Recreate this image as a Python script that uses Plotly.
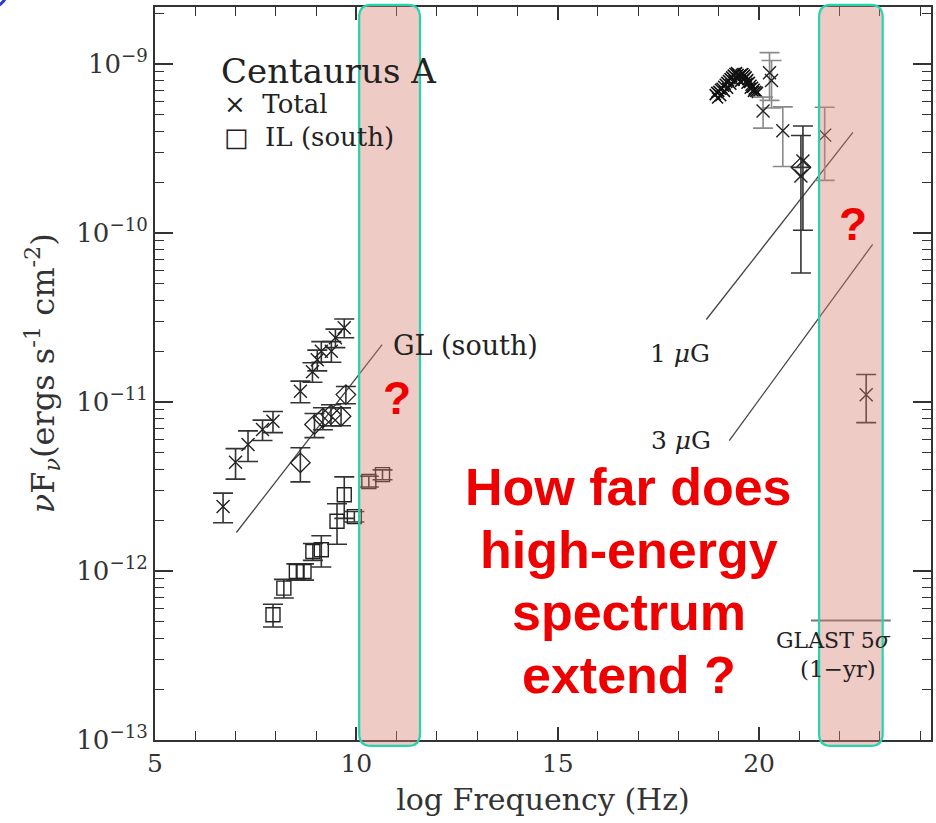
import numpy as np
import plotly.graph_objects as go

# ---- Centaurus A broadband SED data (log nu [Hz], nu F_nu [erg s^-1 cm^-2]) ----
# Total flux, radio points
total_lo_x = [6.69, 7.00, 7.31, 7.67, 7.93, 8.61, 8.91, 9.03, 9.13, 9.38, 9.48, 9.70]
total_lo_y = [2.41e-12, 4.40e-12, 5.60e-12, 6.87e-12, 7.69e-12, 1.16e-11,
              1.51e-11, 1.78e-11, 2.00e-11, 2.00e-11, 2.40e-11, 2.75e-11]
total_lo_err = [0.48e-12, 0.90e-12, 1.15e-12, 0.95e-12, 1.10e-12, 1.70e-12,
                2.0e-12, 2.5e-12, 2.8e-12, 2.8e-12, 3.0e-12, 3.5e-12]

# Total flux, dense X-ray / soft gamma-ray spectrum
blob_x = [18.91, 18.95, 19.00, 19.04, 19.08, 19.12, 19.16, 19.20, 19.24, 19.28,
          19.32, 19.36, 19.40, 19.44, 19.48, 19.52, 19.56, 19.60, 19.64, 19.68,
          19.72, 19.76, 19.80, 19.84, 19.88, 19.92, 19.96,
          18.97, 19.05, 19.14, 19.22, 19.30, 19.38, 19.46, 19.54, 19.62, 19.70, 19.78, 19.86]
blob_y = [6.6e-10, 6.8e-10, 6.9e-10, 7.1e-10, 7.2e-10, 7.4e-10, 7.6e-10, 7.8e-10, 8.0e-10, 8.2e-10,
          8.4e-10, 8.6e-10, 8.8e-10, 8.9e-10, 8.7e-10, 8.5e-10, 8.7e-10, 8.8e-10, 8.6e-10, 8.4e-10,
          8.1e-10, 7.8e-10, 7.5e-10, 7.3e-10, 7.1e-10, 6.9e-10, 6.8e-10,
          6.3e-10, 6.5e-10, 6.9e-10, 7.2e-10, 7.6e-10, 8.0e-10, 8.2e-10, 7.9e-10, 8.1e-10, 7.7e-10, 7.2e-10, 6.9e-10]

# Total flux, gamma-ray points with grey error bars
total_g_x = [20.10, 20.26, 20.31, 20.59, 21.63]
total_g_y = [5.28e-10, 8.9e-10, 8.0e-10, 4.03e-10, 3.8e-10]
total_g_err = [1.1e-10, 2.8e-10, 2.5e-10, 1.55e-10, 1.75e-10]

# Total flux, gamma-ray points with dark error bars
total_d_x = [21.09, 21.04, 22.66]
total_d_y = [2.67e-10, 2.18e-10, 1.106e-11]
total_d_err = [1.63e-10, 1.6e-10, 3.5e-12]

# Giant lobe (south) points
gl_x = [8.61, 8.96, 9.17, 9.37, 9.62, 9.74, 21.04]
gl_y = [4.37e-12, 7.36e-12, 8.05e-12, 8.43e-12, 8.24e-12, 1.107e-11, 2.45e-10]
gl_err = [1.0e-12, 1.2e-12, 1.2e-12, 1.2e-12, 1.0e-12, 1.3e-12, 0.0]

# Inner lobe (south) points
il_x = [7.93, 8.20, 8.51, 8.70, 8.92, 9.13, 9.52, 9.70, 9.95, 10.31, 10.65]
il_y = [5.51e-13, 7.92e-13, 9.93e-13, 9.93e-13, 1.306e-12, 1.337e-12,
        1.97e-12, 2.83e-12, 2.10e-12, 3.39e-12, 3.72e-12]
il_err = [0.85e-13, 1.0e-13, 1.1e-13, 1.1e-13, 1.5e-13, 2.8e-13,
          5.3e-13, 7.8e-13, 1.5e-13, 2.5e-13, 2.5e-13]

# Model spectra (power-law segments)
gl_model_x = [7.02, 10.64]
gl_model_y = [1.69e-12, 2.19e-11]
ic1_x = [18.69, 22.33]
ic1_y = [3.08e-11, 3.94e-10]
ic3_x = [19.26, 22.82]
ic3_y = [5.92e-12, 8.57e-11]

# GLAST 5-sigma one-year sensitivity
glast_x = [21.29, 23.27]
glast_y = [5.1e-13, 5.1e-13]

# Highlighted frequency windows
bands = [(10.07, 11.58), (21.49, 23.07)]

x_ticks = [5, 10, 15, 20]
y_ticks = [1e-13, 1e-12, 1e-11, 1e-10, 1e-9]
y_ticktext = ["10<sup>−13</sup>", "10<sup>−12</sup>", "10<sup>−11</sup>",
              "10<sup>−10</sup>", "10<sup>−9</sup>"]

INK = "#222222"
GREY = "#8a8a8a"
SERIF = "DejaVu Serif"

fig = go.Figure()

# model lines
for mx, my in [(gl_model_x, gl_model_y), (ic1_x, ic1_y), (ic3_x, ic3_y)]:
    fig.add_trace(go.Scatter(x=mx, y=my, mode="lines",
                             line=dict(color="#444444", width=1.3)))
fig.add_trace(go.Scatter(x=glast_x, y=glast_y, mode="lines",
                         line=dict(color="#777777", width=2)))


def xmark(x, y, err, ecolor, size=13):
    return go.Scatter(
        x=x, y=y, mode="markers",
        marker=dict(symbol="x-thin", size=size, color=INK,
                    line=dict(color=INK, width=1.4)),
        error_y=dict(type="data", array=err, visible=True,
                     color=ecolor, thickness=1.6, width=10))


fig.add_trace(xmark(total_lo_x, total_lo_y, total_lo_err, "#333333"))
fig.add_trace(go.Scatter(
    x=blob_x, y=blob_y, mode="markers",
    marker=dict(symbol="x-thin", size=11, color="#111111",
                line=dict(color="#111111", width=1.6))))
fig.add_trace(xmark(total_g_x, total_g_y, total_g_err, GREY))
fig.add_trace(xmark(total_d_x, total_d_y, total_d_err, "#333333"))

fig.add_trace(go.Scatter(
    x=gl_x, y=gl_y, mode="markers",
    marker=dict(symbol="diamond-open", size=15, color=INK,
                line=dict(color=INK, width=1.3)),
    error_y=dict(type="data", array=gl_err, visible=True,
                 color="#333333", thickness=1.6, width=10)))

fig.add_trace(go.Scatter(
    x=il_x, y=il_y, mode="markers",
    marker=dict(symbol="square-open", size=14, color=INK,
                line=dict(color=INK, width=1.4)),
    error_y=dict(type="data", array=il_err, visible=True,
                 color="#333333", thickness=1.6, width=10)))

# highlighted windows drawn as rounded boxes over the data
shapes = []
ry = 0.017
for (b0, b1) in bands:
    rx = 0.3
    y0, y1 = -0.008, 1.003
    path = (f"M {b0+rx},{y0} L {b1-rx},{y0} Q {b1},{y0} {b1},{y0+ry} "
            f"L {b1},{y1-ry} Q {b1},{y1} {b1-rx},{y1} "
            f"L {b0+rx},{y1} Q {b0},{y1} {b0},{y1-ry} "
            f"L {b0},{y0+ry} Q {b0},{y0} {b0+rx},{y0} Z")
    shapes.append(dict(type="path", path=path, xref="x", yref="paper",
                       fillcolor="rgba(215,125,110,0.40)",
                       line=dict(color="#27d2ae", width=2.2), layer="above"))

# small blue mark in the page corner
shapes.append(dict(type="circle", xref="paper", yref="paper",
                   x0=-0.252, x1=-0.190, y0=0.996, y1=1.05,
                   line=dict(color="#2a3bd0", width=3)))

ann = []


def text(x, y, s, size, xanchor="left", color=INK, font=SERIF):
    ann.append(dict(x=x, y=y, text=s, showarrow=False, xanchor=xanchor,
                    yanchor="middle", xref="x", yref="y",
                    font=dict(family=font, size=size, color=color)))


text(6.60, np.log10(9.1e-10), "Centaurus A", 34)
text(6.66, np.log10(5.8e-10), "×  Total", 26)
text(6.66, np.log10(3.7e-10), "□  IL (south)", 26)
text(10.87, np.log10(2.15e-11), "GL (south)", 27)
text(18.82, np.log10(1.95e-11), "1 <i>μ</i>G", 25, xanchor="right")
text(18.85, np.log10(5.9e-12), "3 <i>μ</i>G", 25, xanchor="right")
text(21.85, np.log10(3.9e-13), "GLAST 5<i>σ</i>", 22, xanchor="center")
text(21.95, np.log10(2.62e-13), "(1−yr)", 23, xanchor="center")

RED = "#ee0000"
BOLD = "Liberation Sans"
for i, line in enumerate(["How far does", "high-energy", "spectrum", "extend ?"]):
    ann.append(dict(x=0.6105, y=(740 - 487 - i * 62.7) / 733, xref="paper", yref="paper",
                    text=f"<b>{line}</b>", showarrow=False, xanchor="center",
                    yanchor="middle", font=dict(family=BOLD, size=52, color=RED)))
for qx, qy in [(11.0, np.log10(1.05e-11)), (22.33, np.log10(1.127e-10))]:
    ann.append(dict(x=qx, y=qy, xref="x", yref="y", text="<b>?</b>",
                    xanchor="center", yanchor="middle",
                    showarrow=False, font=dict(family=BOLD, size=46, color=RED)))

# y-axis title
ann.append(dict(x=-0.146, y=0.5, xref="paper", yref="paper", textangle=-90,
                xanchor="center", yanchor="middle",
                text="<i>ν</i>F<sub><i>ν</i></sub>(ergs s<sup>-1</sup> cm<sup>-2</sup>)",
                showarrow=False, font=dict(family=SERIF, size=32, color="#333333")))

minor_y = [m * 10.0 ** e for e in range(-13, -8) for m in range(2, 10)]

fig.update_layout(
    width=936, height=823,
    margin=dict(l=155, r=3, t=7, b=83),
    paper_bgcolor="white", plot_bgcolor="white",
    showlegend=False,
    shapes=shapes, annotations=ann,
    xaxis=dict(range=[5, 24.27], tickvals=x_ticks, ticks="inside", ticklen=13,
               tickwidth=1.5, tickcolor="#333333", showline=True, linewidth=2,
               linecolor="#333333", mirror="ticks", showgrid=False, zeroline=False,
               minor=dict(dtick=1, ticks="inside", ticklen=9, tickwidth=1.3,
                          tickcolor="#333333", showgrid=False),
               tickfont=dict(family=SERIF, size=25, color="#333333"),
               title=dict(text="log Frequency (Hz)", standoff=12,
                          font=dict(family=SERIF, size=30, color="#333333"))),
    yaxis=dict(type="log", range=[-13, -8.662], tickvals=y_ticks, ticktext=y_ticktext,
               ticks="inside", ticklen=18, tickwidth=1.5, tickcolor="#333333",
               showline=True, linewidth=2, linecolor="#333333", mirror="ticks",
               showgrid=False, zeroline=False,
               minor=dict(tickvals=minor_y, ticks="inside", ticklen=9, tickwidth=1.3,
                          tickcolor="#333333", showgrid=False),
               tickfont=dict(family=SERIF, size=26, color="#333333")),
)

fig.write_html("out.html")
